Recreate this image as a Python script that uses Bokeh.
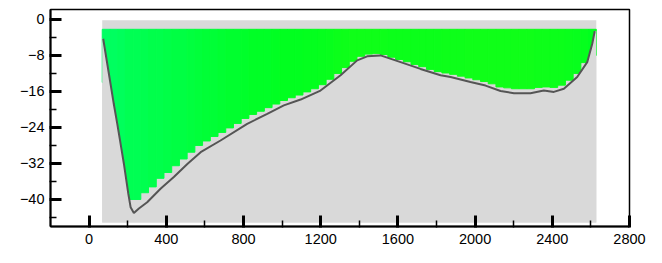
import numpy as np
from bokeh.plotting import figure
from bokeh.models import FixedTicker, Range1d, ColumnDataSource, LinearColorMapper
from bokeh.embed import file_html
from bokeh.resources import INLINE

# ---- data ----
bed_distance = [73, 92, 111, 128, 146, 163, 180, 192, 203, 215, 232, 258, 301, 370, 439, 509,
                578, 681, 819, 923, 1009, 1096, 1199, 1303, 1389, 1441, 1510, 1614, 1717, 1821,
                1873, 1976, 2054, 2132, 2201, 2287, 2356, 2408, 2460, 2529, 2581, 2607, 2620]
bed_depth = [-4.3, -9.3, -14.3, -18.8, -23.2, -27.6, -32.0, -35.5, -38.7, -41.7, -43.0, -42.0,
             -40.6, -37.6, -35.0, -32.1, -29.5, -26.9, -23.2, -21.0, -19.1, -17.8, -15.8, -12.4,
             -9.1, -8.2, -8.0, -9.5, -11.0, -12.4, -12.8, -13.9, -14.7, -15.9, -16.4, -16.4,
             -15.8, -16.1, -15.4, -12.8, -9.5, -5.4, -2.6]

# ensemble columns (40 m wide) : bottom of valid cells and mean velocity
cell_start, cell_width = 68, 40
cell_bottom = [-14.0, -23.5, -33.0, -40.0, -40.0, -38.5, -37.2, -35.3,
               -34.0, -32.5, -31.0, -29.5, -28.0, -27.0, -26.0, -25.1,
               -24.1, -23.1, -22.0, -21.1, -20.4, -19.6, -18.8, -18.0,
               -17.4, -16.8, -16.1, -15.4, -14.5, -13.3, -12.0, -10.7,
               -9.3, -8.2, -7.7, -7.6, -7.8, -8.4, -8.9, -9.4,
               -10.0, -10.5, -11.1, -11.6, -11.9, -12.2, -12.6, -13.0,
               -13.4, -13.8, -14.3, -15.0, -15.2, -15.4, -15.4, -15.4,
               -15.1, -15.0, -15.1, -14.6, -13.5, -12.0, -9.6, -8.0]
cell_velocity = [0.24, 0.26, 0.28, 0.30, 0.31, 0.32, 0.33, 0.34,
                 0.35, 0.36, 0.37, 0.38, 0.40, 0.41, 0.42, 0.43,
                 0.44, 0.45, 0.46, 0.47, 0.48, 0.48, 0.49, 0.50,
                 0.50, 0.51, 0.52, 0.53, 0.54, 0.56, 0.58, 0.60,
                 0.62, 0.62, 0.62, 0.61, 0.60, 0.59, 0.58, 0.58,
                 0.58, 0.58, 0.59, 0.59, 0.60, 0.60, 0.60, 0.61,
                 0.61, 0.61, 0.62, 0.62, 0.62, 0.62, 0.61, 0.61,
                 0.60, 0.60, 0.59, 0.58, 0.57, 0.56, 0.54, 0.50]
cell_top = -2.2

survey_left, survey_right, survey_top, survey_bottom = 68, 2628, -0.2, -45.1

x_ticks = [0, 400, 800, 1200, 1600, 2000, 2400, 2800]
x_tick_labels = ["0", "400", "800", "1200", "1600", "2000", "2400", "2800"]
x_minor = [200, 600, 1000, 1400, 1800, 2200, 2600]
y_ticks = [0, -8, -16, -24, -32, -40]
y_tick_labels = ["0", "\u22128", "\u221216", "\u221224", "\u221232", "\u221240"]
y_minor = [-4, -12, -20, -28, -36, -44]

# smooth colour scale: cyan-green -> green -> yellow-green
anchors = [(0.0, (0, 255, 160)), (0.5, (0, 255, 32)), (1.0, (64, 255, 0))]
palette = []
for i in range(64):
    t = i / 63
    (t0, c0), (t1, c1) = (anchors[0], anchors[1]) if t <= 0.5 else (anchors[1], anchors[2])
    f = (t - t0) / (t1 - t0)
    palette.append("#%02x%02x%02x" % tuple(int(round(a + (b - a) * f)) for a, b in zip(c0, c1)))

# ---- figure ----
p = figure(width=654, height=257, output_backend="svg", toolbar_location=None,
           x_range=Range1d(-200, 2800), y_range=Range1d(-46, 2.2),
           min_border_left=50, min_border_right=25, min_border_top=9, min_border_bottom=31)
p.background_fill_color = "white"
p.border_fill_color = "white"
p.grid.visible = False
p.outline_line_color = "black"
p.outline_line_width = 1.5

# gray survey area
p.quad(left=[survey_left], right=[survey_right], top=[survey_top], bottom=[survey_bottom],
       fill_color="#d9d9d9", line_color=None)

# velocity cells
n = len(cell_bottom)
lefts = cell_start + cell_width * np.arange(n)
src = ColumnDataSource(dict(left=lefts, right=lefts + cell_width,
                            top=[cell_top] * n, bottom=cell_bottom, v=cell_velocity))
mapper = LinearColorMapper(palette=palette, low=0, high=1)
p.quad(left="left", right="right", top="top", bottom="bottom", source=src,
       fill_color={"field": "v", "transform": mapper},
       line_color={"field": "v", "transform": mapper}, line_width=1)

# riverbed mask (everything below the bed line)
mask_x = [survey_left, survey_left] + bed_distance + [survey_right, survey_right]
mask_y = [survey_bottom, bed_depth[0]] + bed_depth + [bed_depth[-1], survey_bottom]
p.patch(mask_x, mask_y, fill_color="#d9d9d9", line_color=None)

# bed line
p.line(bed_distance, bed_depth, line_color="#555555", line_width=2)

# axes
for ax, ticks, minor, labels in ((p.xaxis[0], x_ticks, x_minor, x_tick_labels),
                                 (p.yaxis[0], y_ticks, y_minor, y_tick_labels)):
    ax.ticker = FixedTicker(ticks=ticks, minor_ticks=minor)
    ax.major_label_overrides = {t: l for t, l in zip(ticks, labels)}
    ax.axis_line_width = 2
    ax.axis_line_color = "black"
    ax.major_tick_in = 11
    ax.major_tick_out = 1
    ax.major_tick_line_width = 3
    ax.minor_tick_in = 6
    ax.minor_tick_out = 1
    ax.minor_tick_line_width = 1.5
    ax.major_label_text_font = "Liberation Sans"
    ax.major_label_text_font_size = "14.5px"
    ax.major_label_text_color = "black"
p.xaxis.major_label_standoff = 6
p.yaxis.major_label_standoff = 5

open("out.html", "w").write(file_html(p, INLINE))
